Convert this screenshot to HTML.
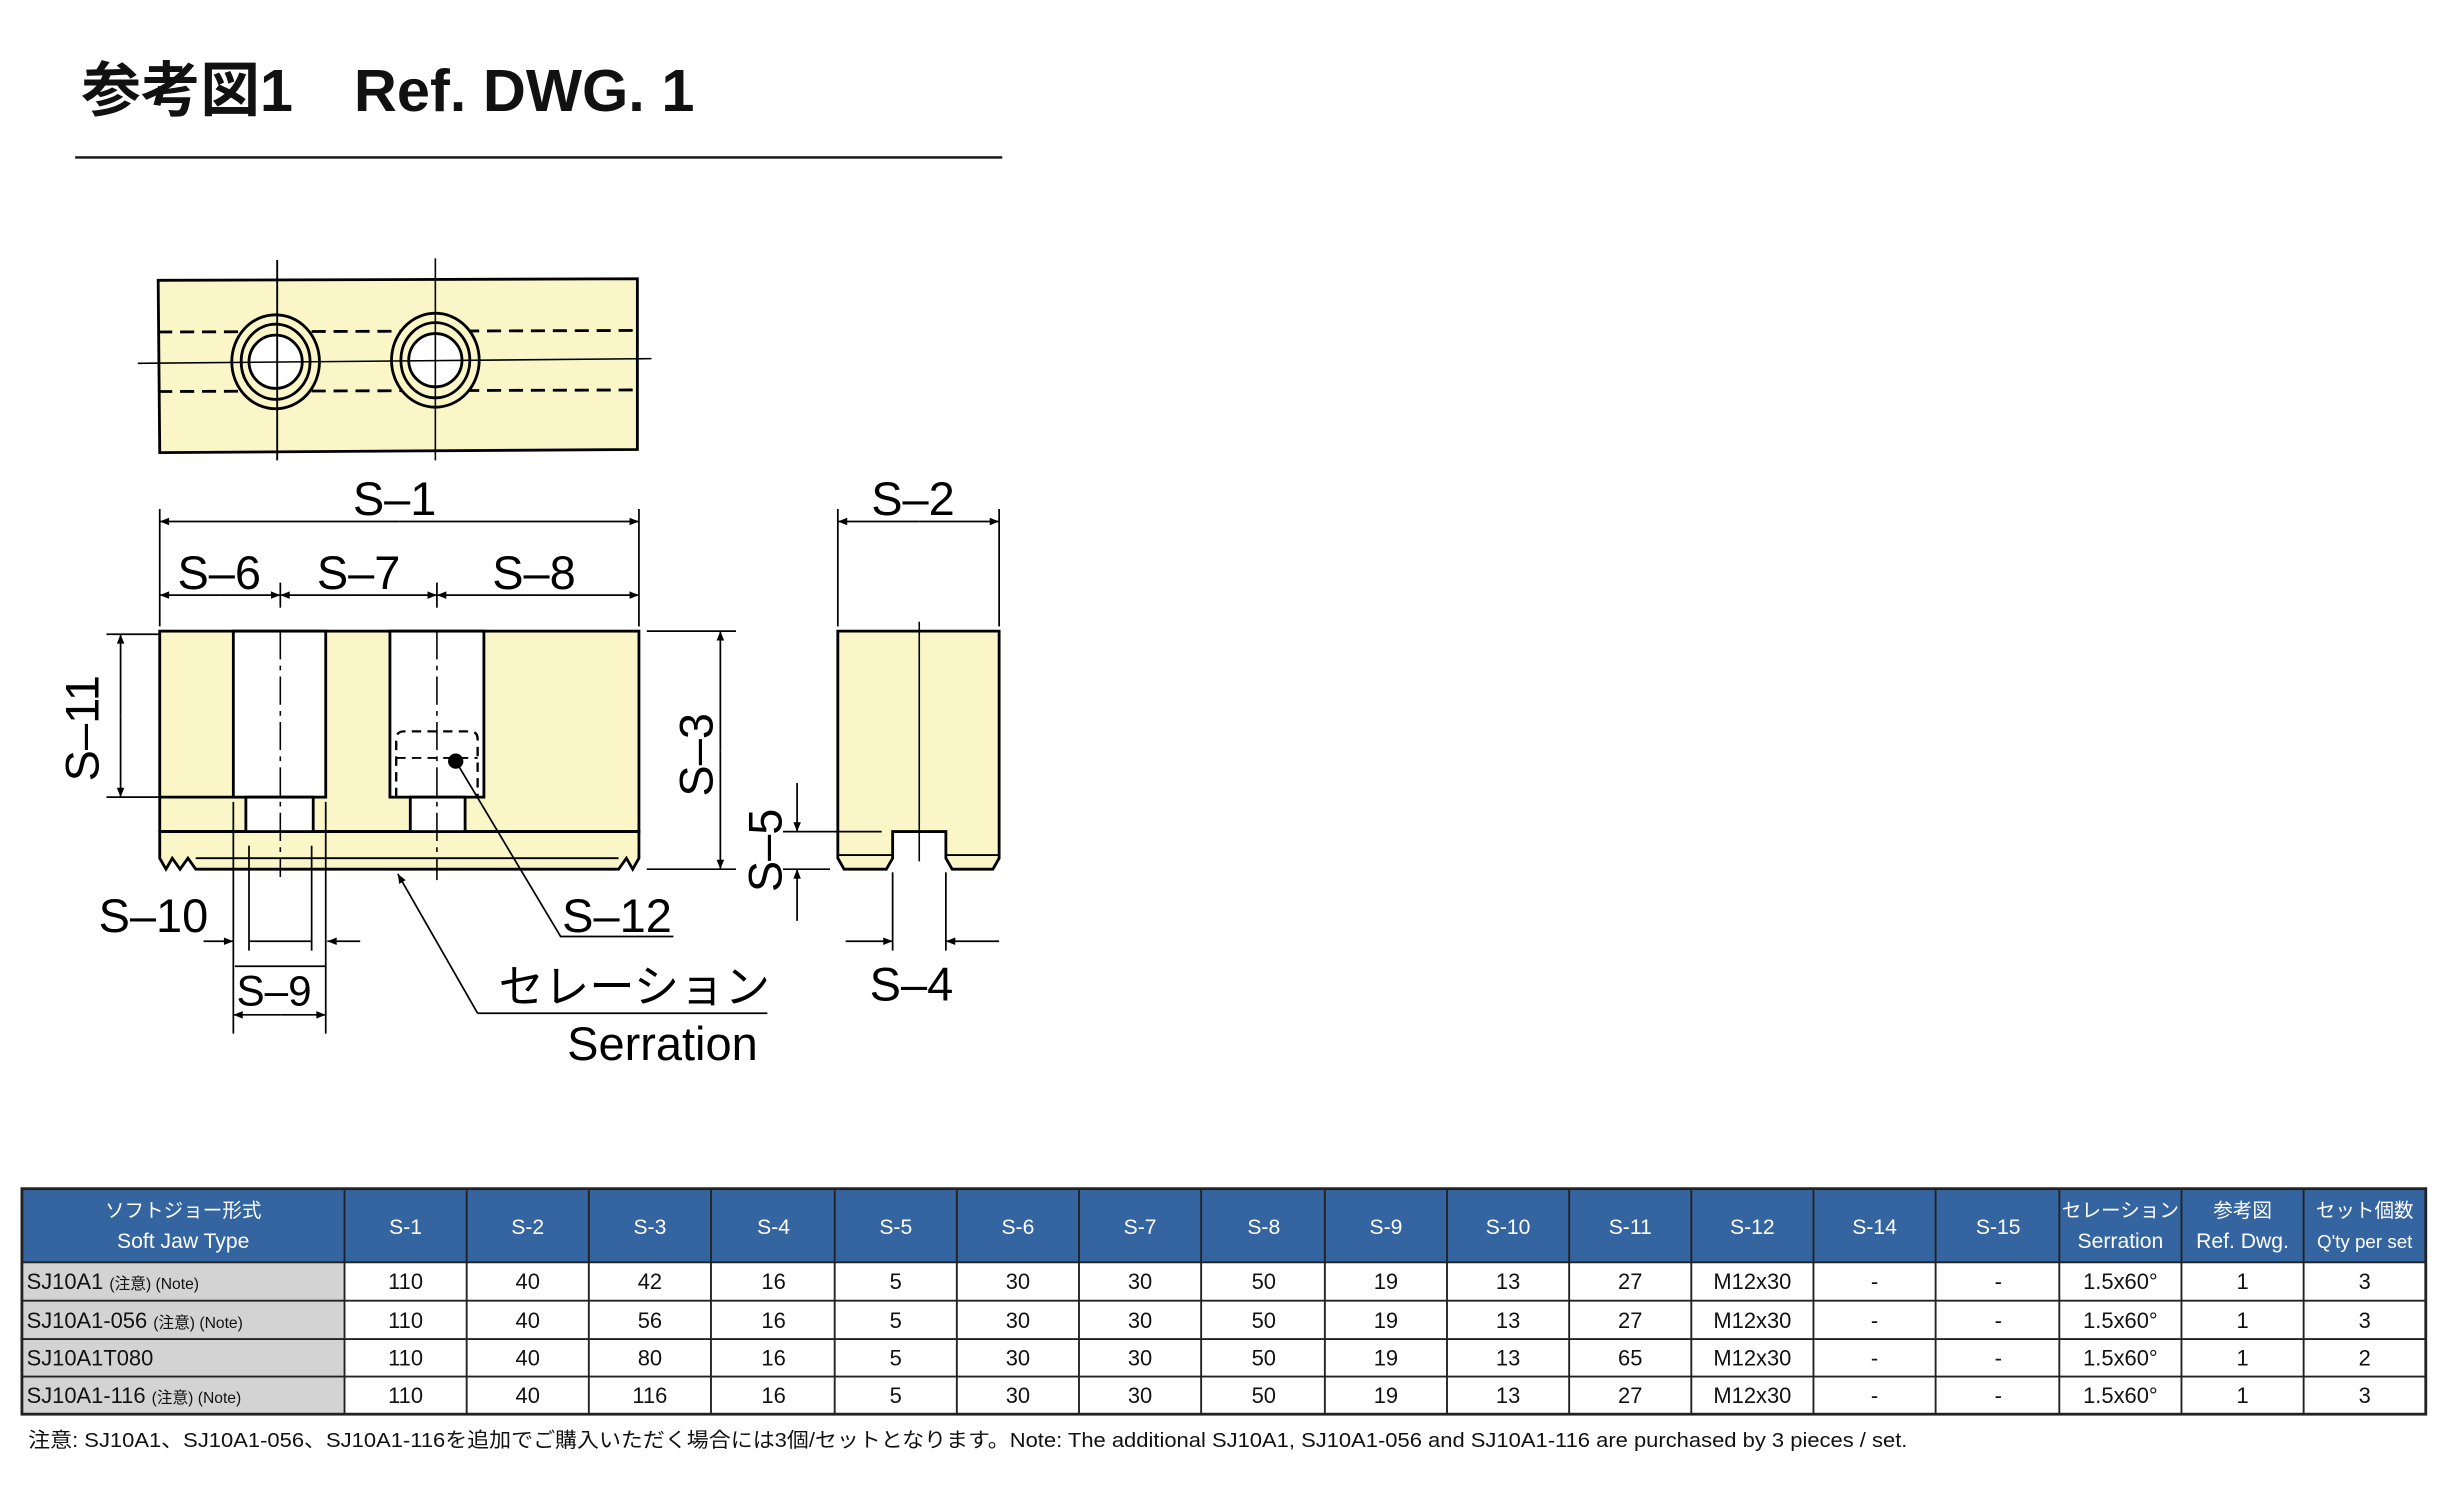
<!DOCTYPE html>
<html><head><meta charset="utf-8"><style>
html,body{margin:0;padding:0;background:#fff}
svg{display:block}
text{font-family:"Liberation Sans","Noto Sans CJK JP",sans-serif}
</style></head><body>
<svg width="2443" height="1500" viewBox="0 0 1560 957.8" preserveAspectRatio="none" xmlns="http://www.w3.org/2000/svg">
<defs>
<marker id="a" viewBox="0 0 10 10" refX="10" refY="5" markerWidth="9" markerHeight="6" markerUnits="userSpaceOnUse" orient="auto"><path d="M0,1 L10,5 L0,9 z" fill="#000"/></marker>
</defs>
<!-- title -->
<text x="52" y="71" font-size="38" font-weight="bold" fill="#111">参考図1</text>
<text x="226" y="71" font-size="38" font-weight="bold" fill="#111">Ref. DWG. 1</text>
<line x1="48" y1="100.5" x2="640" y2="100.5" stroke="#111" stroke-width="1.5"/>

<g stroke="#000" fill="none" stroke-width="1.8">
<!-- top view -->
<path d="M101,179 L407,178 L407,287 L102,289 Z" fill="#faf6c8"/>
<line x1="101" y1="212" x2="407" y2="211" stroke-dasharray="9,5"/>
<line x1="101" y1="250" x2="407" y2="249" stroke-dasharray="9,5"/>
<ellipse cx="176" cy="231" rx="28" ry="30" fill="#faf6c8"/>
<ellipse cx="176" cy="231" rx="22" ry="24"/>
<circle cx="176" cy="231" r="17" fill="#fff"/>
<ellipse cx="278" cy="230" rx="28" ry="30" fill="#faf6c8"/>
<ellipse cx="278" cy="230" rx="22" ry="24"/>
<circle cx="278" cy="230" r="17" fill="#fff"/>
<line x1="88" y1="232" x2="416" y2="229" stroke-width="1"/>
<line x1="177" y1="166" x2="177" y2="294" stroke-width="1.2"/>
<line x1="278" y1="165" x2="278" y2="294" stroke-width="1"/>

<!-- front view -->
<rect x="102" y="403" width="306" height="128" fill="#faf6c8"/>
<path d="M102,531 L408,531 L408,548 L404,555 L400,548 L395,555 L125,555 L120,548 L115,555 L110,548 L106,555 L102,548 Z" fill="#faf6c8"/>
<line x1="125" y1="548" x2="395" y2="548" stroke-width="1.2"/>
<rect x="149" y="403" width="59" height="106" fill="#fff"/>
<rect x="157" y="509" width="43" height="22" fill="#fff"/>
<line x1="102" y1="509" x2="149" y2="509"/>
<rect x="249" y="403" width="60" height="106" fill="#fff"/>
<rect x="262" y="509" width="35" height="22" fill="#fff"/>
<path d="M253,509 L253,472 Q253,467 258,467 L300,467 Q305,467 305,472 L305,509" stroke-dasharray="6,4" stroke-width="1.5"/>
<line x1="253" y1="484" x2="305" y2="484" stroke-dasharray="6,4" stroke-width="1.2"/>
<circle cx="291" cy="486" r="4" fill="#000"/>
<line x1="179" y1="403" x2="179" y2="560" stroke-dasharray="18,4,3,4" stroke-width="1"/>
<line x1="279" y1="403" x2="279" y2="562" stroke-dasharray="18,4,3,4" stroke-width="1"/>

<!-- side view -->
<path d="M535,403 L638,403 L638,548 L634,555 L608,555 L604,548 L604,531 L570,531 L570,548 L566,555 L539,555 L535,548 Z" fill="#faf6c8"/>
<line x1="535" y1="546" x2="570" y2="546" stroke-width="1.2"/>
<line x1="604" y1="546" x2="638" y2="546" stroke-width="1.2"/>
<line x1="587" y1="397" x2="587" y2="550" stroke-width="1"/>
</g>

<g stroke="#000" stroke-width="1.1" fill="none">
<!-- S-1 -->
<line x1="102" y1="325" x2="102" y2="400"/><line x1="408" y1="325" x2="408" y2="400"/>
<line x1="255" y1="333" x2="102" y2="333" marker-end="url(#a)"/><line x1="255" y1="333" x2="408" y2="333" marker-end="url(#a)"/>
<!-- S-6/7/8 -->
<line x1="140" y1="380" x2="102" y2="380" marker-end="url(#a)"/><line x1="140" y1="380" x2="179" y2="380" marker-end="url(#a)"/>
<line x1="229" y1="380" x2="179" y2="380" marker-end="url(#a)"/><line x1="229" y1="380" x2="279" y2="380" marker-end="url(#a)"/>
<line x1="340" y1="380" x2="279" y2="380" marker-end="url(#a)"/><line x1="340" y1="380" x2="408" y2="380" marker-end="url(#a)"/>
<line x1="179" y1="372" x2="179" y2="388"/><line x1="279" y1="372" x2="279" y2="388"/>
<!-- S-11 -->
<line x1="68" y1="405" x2="102" y2="405"/><line x1="68" y1="509" x2="102" y2="509"/>
<line x1="77" y1="457" x2="77" y2="405" marker-end="url(#a)"/><line x1="77" y1="457" x2="77" y2="509" marker-end="url(#a)"/>
<!-- S-3 -->
<line x1="413" y1="403" x2="470" y2="403"/><line x1="413" y1="555" x2="470" y2="555"/>
<line x1="460" y1="480" x2="460" y2="403" marker-end="url(#a)"/><line x1="460" y1="480" x2="460" y2="555" marker-end="url(#a)"/>
<!-- S-9 / S-10 -->
<line x1="149" y1="512" x2="149" y2="660"/><line x1="208" y1="512" x2="208" y2="660"/>
<line x1="159" y1="540" x2="159" y2="607"/><line x1="199" y1="540" x2="199" y2="607"/>
<line x1="130" y1="601" x2="149" y2="601" marker-end="url(#a)"/><line x1="159" y1="601" x2="199" y2="601"/>
<line x1="230" y1="601" x2="209" y2="601" marker-end="url(#a)"/>
<line x1="179" y1="648" x2="149" y2="648" marker-end="url(#a)"/><line x1="179" y1="648" x2="208" y2="648" marker-end="url(#a)"/>
<line x1="150" y1="617" x2="208" y2="617"/>
<!-- S-12 leader -->
<polyline points="291,486 358,598 430,598"/>
<!-- serration leader -->
<polyline points="305,647 490,647"/><line x1="305" y1="647" x2="254" y2="558" marker-end="url(#a)"/>
<!-- S-2 -->
<line x1="535" y1="325" x2="535" y2="400"/><line x1="638" y1="325" x2="638" y2="400"/>
<line x1="587" y1="333" x2="535" y2="333" marker-end="url(#a)"/><line x1="587" y1="333" x2="638" y2="333" marker-end="url(#a)"/>
<!-- S-5 -->
<line x1="500" y1="531" x2="563" y2="531"/><line x1="500" y1="555" x2="530" y2="555"/>
<line x1="509" y1="500" x2="509" y2="531" marker-end="url(#a)"/><line x1="509" y1="588" x2="509" y2="555" marker-end="url(#a)"/>
<!-- S-4 -->
<line x1="570" y1="557" x2="570" y2="607"/><line x1="604" y1="557" x2="604" y2="607"/>
<line x1="540" y1="601" x2="570" y2="601" marker-end="url(#a)"/><line x1="638" y1="601" x2="604" y2="601" marker-end="url(#a)"/>
</g>

<g font-size="30" fill="#000" text-anchor="middle">
<text x="252" y="329">S‒1</text>
<text x="140" y="376">S‒6</text>
<text x="229" y="376">S‒7</text>
<text x="341" y="376">S‒8</text>
<text x="583" y="329">S‒2</text>
<text x="98" y="595">S‒10</text>
<text x="175" y="642" font-size="27">S‒9</text>
<text x="394" y="595">S‒12</text>
<text x="405" y="640" font-size="29">セレーション</text>
<text x="423" y="677">Serration</text>
<text x="582" y="639">S‒4</text>
<text transform="translate(63,465) rotate(-90)">S‒11</text>
<text transform="translate(455,482) rotate(-90)">S‒3</text>
<text transform="translate(499,543) rotate(-90)">S‒5</text>
</g>

<!-- table -->
<rect x="14" y="759" width="1535" height="47" fill="#3465a0"/>
<rect x="14" y="806" width="206" height="97" fill="#d3d3d3"/>
<g stroke="#222" stroke-width="1.2">
<rect x="14" y="759" width="1535" height="144" fill="none" stroke-width="1.8"/>
<line x1="14" y1="806" x2="1549" y2="806"/><line x1="14" y1="830.5" x2="1549" y2="830.5"/>
<line x1="14" y1="855" x2="1549" y2="855"/><line x1="14" y1="879" x2="1549" y2="879"/>
<line x1="220" y1="759" x2="220" y2="903"/><line x1="298" y1="759" x2="298" y2="903"/>
<line x1="376" y1="759" x2="376" y2="903"/><line x1="454" y1="759" x2="454" y2="903"/>
<line x1="533" y1="759" x2="533" y2="903"/><line x1="611" y1="759" x2="611" y2="903"/>
<line x1="689" y1="759" x2="689" y2="903"/><line x1="767" y1="759" x2="767" y2="903"/>
<line x1="846" y1="759" x2="846" y2="903"/><line x1="924" y1="759" x2="924" y2="903"/>
<line x1="1002" y1="759" x2="1002" y2="903"/><line x1="1080" y1="759" x2="1080" y2="903"/>
<line x1="1158" y1="759" x2="1158" y2="903"/><line x1="1236" y1="759" x2="1236" y2="903"/>
<line x1="1315" y1="759" x2="1315" y2="903"/><line x1="1393" y1="759" x2="1393" y2="903"/>
<line x1="1471" y1="759" x2="1471" y2="903"/>
</g>
<g font-size="13.5" fill="#fff" text-anchor="middle">
<text x="117" y="777" font-size="12.5">ソフトジョー形式</text><text x="117" y="797">Soft Jaw Type</text>
<text x="259" y="788">S-1</text><text x="337" y="788">S-2</text><text x="415" y="788">S-3</text><text x="494" y="788">S-4</text>
<text x="572" y="788">S-5</text><text x="650" y="788">S-6</text><text x="728" y="788">S-7</text><text x="807" y="788">S-8</text>
<text x="885" y="788">S-9</text><text x="963" y="788">S-10</text><text x="1041" y="788">S-11</text><text x="1119" y="788">S-12</text>
<text x="1197" y="788">S-14</text><text x="1276" y="788">S-15</text>
<text x="1354" y="777" font-size="12.5">セレーション</text><text x="1354" y="797">Serration</text>
<text x="1432" y="777" font-size="12.5">参考図</text><text x="1432" y="797">Ref. Dwg.</text>
<text x="1510" y="777" font-size="12.5">セット個数</text><text x="1510" y="797" font-size="12">Q'ty per set</text>
</g>
<g font-size="14" fill="#111">
<text x="17" y="823">SJ10A1 <tspan font-size="10">(注意) (Note)</tspan></text>
<text x="17" y="848">SJ10A1-056 <tspan font-size="10">(注意) (Note)</tspan></text>
<text x="17" y="872">SJ10A1T080</text>
<text x="17" y="896">SJ10A1-116 <tspan font-size="10">(注意) (Note)</tspan></text>
</g>
<g font-size="14" fill="#111" text-anchor="middle">
<g transform="translate(0,823)"><text x="259">110</text><text x="337">40</text><text x="415">42</text><text x="494">16</text><text x="572">5</text><text x="650">30</text><text x="728">30</text><text x="807">50</text><text x="885">19</text><text x="963">13</text><text x="1041">27</text><text x="1119">M12x30</text><text x="1197">-</text><text x="1276">-</text><text x="1354">1.5x60°</text><text x="1432">1</text><text x="1510">3</text></g>
<g transform="translate(0,848)"><text x="259">110</text><text x="337">40</text><text x="415">56</text><text x="494">16</text><text x="572">5</text><text x="650">30</text><text x="728">30</text><text x="807">50</text><text x="885">19</text><text x="963">13</text><text x="1041">27</text><text x="1119">M12x30</text><text x="1197">-</text><text x="1276">-</text><text x="1354">1.5x60°</text><text x="1432">1</text><text x="1510">3</text></g>
<g transform="translate(0,872)"><text x="259">110</text><text x="337">40</text><text x="415">80</text><text x="494">16</text><text x="572">5</text><text x="650">30</text><text x="728">30</text><text x="807">50</text><text x="885">19</text><text x="963">13</text><text x="1041">65</text><text x="1119">M12x30</text><text x="1197">-</text><text x="1276">-</text><text x="1354">1.5x60°</text><text x="1432">1</text><text x="1510">2</text></g>
<g transform="translate(0,896)"><text x="259">110</text><text x="337">40</text><text x="415">116</text><text x="494">16</text><text x="572">5</text><text x="650">30</text><text x="728">30</text><text x="807">50</text><text x="885">19</text><text x="963">13</text><text x="1041">27</text><text x="1119">M12x30</text><text x="1197">-</text><text x="1276">-</text><text x="1354">1.5x60°</text><text x="1432">1</text><text x="1510">3</text></g>
</g>
<text x="18" y="924" font-size="13" fill="#111" textLength="1200" lengthAdjust="spacingAndGlyphs">注意: SJ10A1、SJ10A1-056、SJ10A1-116を追加でご購入いただく場合には3個/セットとなります。Note: The additional SJ10A1, SJ10A1-056 and SJ10A1-116 are purchased by 3 pieces / set.</text>
</svg>
</body></html>
